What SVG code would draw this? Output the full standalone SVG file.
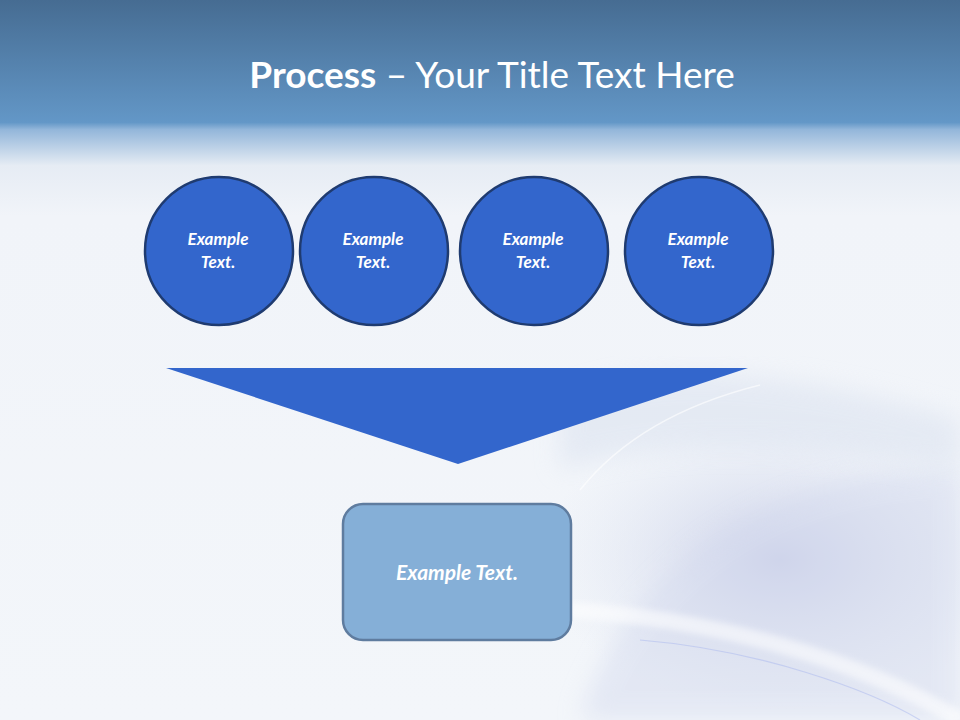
<svg xmlns="http://www.w3.org/2000/svg" width="960" height="720" viewBox="0 0 960 720">
<defs>
<linearGradient id="bg" x1="0" y1="0" x2="0" y2="1">
<stop offset="0" stop-color="#466C92"/>
<stop offset="0.17" stop-color="#6397C7"/>
<stop offset="0.18" stop-color="#93B6DA"/>
<stop offset="0.23" stop-color="#E6ECF4"/>
<stop offset="0.3" stop-color="#F1F4F9"/>
<stop offset="1" stop-color="#F3F6FA"/>
</linearGradient>
<radialGradient id="sw" cx="0.5" cy="0.5" r="0.5">
<stop offset="0" stop-color="#C6CBE6" stop-opacity="0.9"/>
<stop offset="1" stop-color="#DCE3F1" stop-opacity="0"/>
</radialGradient>
<filter id="blur" x="-20%" y="-20%" width="140%" height="140%"><feGaussianBlur stdDeviation="12"/></filter>
<filter id="blur2"><feGaussianBlur stdDeviation="3"/></filter>
<style>
.c{fill:#3366CC;stroke:#1F3B70;stroke-width:2.5}
.t{font-family:Lato,"Open Sans","Liberation Sans",sans-serif;font-style:italic;font-weight:bold;fill:#FFFFFF;text-anchor:middle}
</style>
</defs>
<rect width="960" height="720" fill="url(#bg)"/>
<g id="swirl" fill="none">
<ellipse cx="780" cy="560" rx="240" ry="150" fill="url(#sw)"/>
<path d="M580 720 C620 580 760 470 960 470 L960 720 Z" fill="#D4DAEE" opacity="0.5" filter="url(#blur)"/>
<path d="M560 400 C650 360 800 370 960 420 L960 470 C800 440 650 440 560 470 Z" fill="#DCE3F0" opacity="0.6" filter="url(#blur)"/>
<path d="M570 610 C720 620 860 660 960 720" stroke="#FFFFFF" stroke-width="16" opacity="0.55" filter="url(#blur2)"/>
<path d="M640 640 C760 650 870 690 920 720" stroke="#A9B8F0" stroke-width="1.2" opacity="0.5"/>
<path d="M580 490 C620 440 680 405 760 385" stroke="#FFFFFF" stroke-width="1.5" opacity="0.6"/>
</g>
<text x="492" y="88" font-family="Lato,'Open Sans','Liberation Sans',sans-serif" font-size="37" fill="#FFFFFF" text-anchor="middle"><tspan font-weight="bold">Process</tspan> – Your Title Text Here</text>
<g id="n1"><circle class="c" cx="219" cy="251" r="74"/><text class="t" font-size="17" x="218" y="245">Example</text><text class="t" font-size="17" x="218" y="268">Text.</text></g>
<g id="n2"><circle class="c" cx="374" cy="251" r="74"/><text class="t" font-size="17" x="373" y="245">Example</text><text class="t" font-size="17" x="373" y="268">Text.</text></g>
<g id="n3"><circle class="c" cx="534" cy="251" r="74"/><text class="t" font-size="17" x="533" y="245">Example</text><text class="t" font-size="17" x="533" y="268">Text.</text></g>
<g id="n4"><circle class="c" cx="699" cy="251" r="74"/><text class="t" font-size="17" x="698" y="245">Example</text><text class="t" font-size="17" x="698" y="268">Text.</text></g>
<g id="connectors">
<polygon points="166,368 748,368 458,464" fill="#3366CC"/>
</g>
<g id="n5"><rect x="343" y="504" width="228" height="136" rx="20" fill="#85AFD7" stroke="#5F7C9F" stroke-width="2.5"/><text class="t" font-size="21" x="457" y="580">Example Text.</text></g>
</svg>
